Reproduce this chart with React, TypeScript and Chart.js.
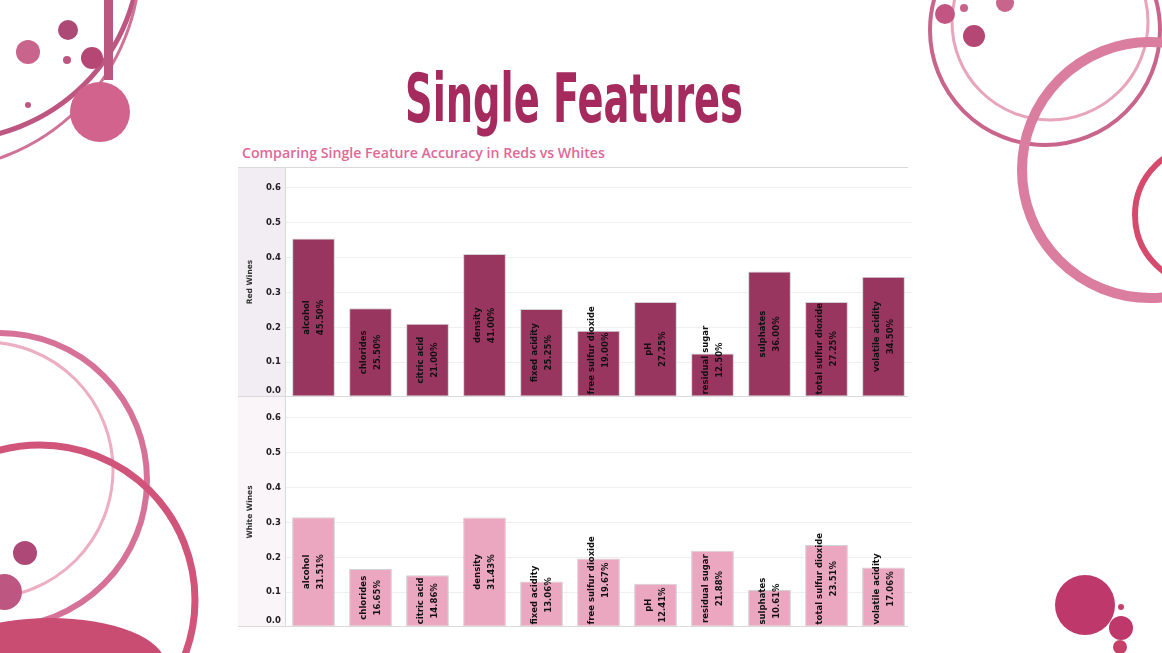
import React, { useEffect, useLayoutEffect, useRef, useState } from 'react';
import { Chart, registerables } from 'chart.js';

Chart.register(...registerables);

// ---------- data ----------
const categories = [
  'alcohol',
  'chlorides',
  'citric acid',
  'density',
  'fixed acidity',
  'free sulfur dioxide',
  'pH',
  'residual sugar',
  'sulphates',
  'total sulfur dioxide',
  'volatile acidity',
];
const redValues = [0.455, 0.255, 0.21, 0.41, 0.2525, 0.19, 0.2725, 0.125, 0.36, 0.2725, 0.345];
const whiteValues = [0.3151, 0.1665, 0.1486, 0.3143, 0.1306, 0.1967, 0.1241, 0.2188, 0.1061, 0.2351, 0.1706];
const yTickValues = [0, 0.1, 0.2, 0.3, 0.4, 0.5, 0.6];
const Y_MAX = 0.66;

const PANE_W = 674;
const PANE_H = 230;
const AXIS_W = 47;
const LABEL_FONT = 'bold 8.5px "DejaVu Sans", sans-serif';

type PaneProps = {
  values: number[];
  color: string;
  title: string;
  headerBg: string;
  drawTop: boolean;
  top: number;
};

function Pane({ values, color, title, headerBg, drawTop, top }: PaneProps) {
  const ref = useRef<HTMLCanvasElement | null>(null);

  useEffect(() => {
    if (!ref.current) return;
    const panePlugin = {
      id: 'panePlugin',
      beforeDraw(chart: any) {
        const { ctx, chartArea } = chart;
        ctx.save();
        ctx.fillStyle = headerBg;
        ctx.fillRect(0, 0, chartArea.left, chart.height);
        ctx.restore();
      },
      afterDatasetsDraw(chart: any) {
        const { ctx } = chart;
        const meta = chart.getDatasetMeta(0);
        ctx.save();
        ctx.font = LABEL_FONT;
        ctx.fillStyle = '#111';
        ctx.textAlign = 'center';
        ctx.textBaseline = 'middle';
        meta.data.forEach((bar: any, i: number) => {
          const { x, y, base } = bar.getProps(['x', 'y', 'base'], true);
          const name = categories[i];
          const pct = (values[i] * 100).toFixed(2) + '%';
          const len = Math.max(ctx.measureText(name).width, ctx.measureText(pct).width);
          let c = (y + base) / 2;
          if (c + len / 2 > base - 2) c = base - 2 - len / 2;
          ctx.save();
          ctx.translate(x, c);
          ctx.rotate(-Math.PI / 2);
          ctx.fillText(name, 0, -7);
          ctx.fillText(pct, 0, 7);
          ctx.restore();
        });
        ctx.restore();
      },
      afterDraw(chart: any) {
        const { ctx, chartArea, scales } = chart;
        ctx.save();
        // tick labels
        ctx.font = LABEL_FONT;
        ctx.fillStyle = '#222';
        ctx.textAlign = 'right';
        ctx.textBaseline = 'middle';
        yTickValues.forEach((v) => {
          let py = scales.y.getPixelForValue(v);
          py = Math.min(Math.max(py, chartArea.top + 6), chartArea.bottom - 6.5);
          ctx.fillText(v.toFixed(1), 43, py);
        });
        // axis title
        ctx.font = 'bold 7.5px "DejaVu Sans", sans-serif';
        ctx.fillStyle = '#333';
        ctx.textAlign = 'center';
        ctx.translate(12, (chartArea.top + chartArea.bottom) / 2);
        ctx.rotate(-Math.PI / 2);
        ctx.fillText(title, 0, 0);
        ctx.restore();
        // pane borders
        ctx.save();
        ctx.fillStyle = '#d9d9d9';
        if (drawTop) ctx.fillRect(0, 0, chartArea.right - 4, 1);
        ctx.fillRect(0, chart.height - 1, chartArea.right - 4, 1);
        ctx.restore();
      },
    };

    const chart = new Chart(ref.current, {
      type: 'bar',
      data: {
        labels: categories,
        datasets: [
          {
            data: values,
            backgroundColor: color,
            borderColor: '#d2d2d2',
            borderWidth: 1,
            borderSkipped: false,
            barPercentage: 0.75,
            categoryPercentage: 1,
          },
        ],
      },
      options: {
        animation: false,
        responsive: false,
        maintainAspectRatio: false,
        layout: { padding: 0 },
        plugins: {
          legend: { display: false },
          tooltip: { enabled: false },
          title: { display: false },
        },
        scales: {
          x: { display: false, offset: true },
          y: {
            min: 0,
            max: Y_MAX,
            ticks: { display: false, stepSize: 0.1 },
            afterBuildTicks: (s: any) => {
              s.ticks = yTickValues.map((v) => ({ value: v }));
            },
            afterFit: (s: any) => {
              s.width = AXIS_W;
            },
            grid: {
              drawTicks: false,
              color: (c: any) => (c.tick && c.tick.value === 0 ? '#d9d9d9' : '#efefef'),
            },
            border: { display: true, color: '#d9d9d9' },
          },
        },
      } as any,
      plugins: [panePlugin],
    });
    return () => chart.destroy();
  }, [values, color, title, headerBg, drawTop]);

  return (
    <div style={{ position: 'absolute', left: 238, top, width: PANE_W, height: PANE_H }}>
      <canvas ref={ref} width={PANE_W} height={PANE_H} style={{ width: PANE_W, height: PANE_H, display: 'block' }} />
    </div>
  );
}

function Decorations() {
  return (
    <svg width={1162} height={653} style={{ position: 'absolute', left: 0, top: 0 }}>
      {/* top-left */}
      <g opacity={0.85}>
        <circle cx={-50} cy={-50} r={190} fill="none" stroke="#b23a6c" strokeWidth={5} />
        <circle cx={-70} cy={-40} r={210} fill="none" stroke="#c85a86" strokeWidth={3} />
        <rect x={104} y={0} width={9} height={80} fill="#b03a6a" />
        <circle cx={100} cy={112} r={30} fill="#c9487a" />
        <circle cx={92} cy={58} r={11} fill="#a8285c" />
        <circle cx={68} cy={30} r={10} fill="#9e2a5e" />
        <circle cx={28} cy={52} r={12} fill="#c04a78" />
        <circle cx={67} cy={60} r={4} fill="#b23a6c" />
        <circle cx={28} cy={105} r={3} fill="#b23a6c" />
      </g>
      {/* top-right */}
      <g opacity={0.85}>
        <circle cx={1045} cy={30} r={115} fill="none" stroke="#c04a78" strokeWidth={4} />
        <circle cx={1050} cy={22} r={98} fill="none" stroke="#e595b0" strokeWidth={3} />
        <circle cx={1150} cy={170} r={128} fill="none" stroke="#d4678e" strokeWidth={10} />
        <circle cx={1205} cy={215} r={70} fill="none" stroke="#cf2b55" strokeWidth={6} />
        <circle cx={945} cy={14} r={10} fill="#b8386c" />
        <circle cx={974} cy={36} r={11} fill="#a8285c" />
        <circle cx={1005} cy={3} r={9} fill="#c04a78" />
        <circle cx={964} cy={8} r={4} fill="#c04a78" />
      </g>
      {/* bottom-left */}
      <g opacity={0.85}>
        <circle cx={0} cy={480} r={147} fill="none" stroke="#d05a85" strokeWidth={6} />
        <circle cx={-15} cy={470} r={128} fill="none" stroke="#eba0b8" strokeWidth={3} />
        <circle cx={40} cy={600} r={155} fill="none" stroke="#c93763" strokeWidth={7} />
        <ellipse cx={50} cy={664} rx={115} ry={46} fill="#c02d5a" />
        <circle cx={25} cy={553} r={12} fill="#a02a60" />
        <circle cx={4} cy={592} r={18} fill="#b23a6c" />
      </g>
      {/* bottom-right */}
      <g opacity={0.9}>
        <circle cx={1085} cy={605} r={30} fill="#b8235c" />
        <circle cx={1121} cy={628} r={12} fill="#b8235c" />
        <circle cx={1120} cy={647} r={7} fill="#c02d5a" />
        <circle cx={1121} cy={607} r={3} fill="#c02d5a" />
      </g>
    </svg>
  );
}

export default function App() {
  const titleRef = useRef<HTMLSpanElement | null>(null);
  const subRef = useRef<HTMLSpanElement | null>(null);
  const [scale, setScale] = useState(1);
  const [subScale, setSubScale] = useState(1);

  useLayoutEffect(() => {
    if (titleRef.current) {
      const w = titleRef.current.offsetWidth;
      if (w > 0) setScale(338 / w);
    }
    if (subRef.current) {
      const w = subRef.current.offsetWidth;
      if (w > 0) setSubScale(363 / w);
    }
  }, []);

  return (
    <div
      style={{
        position: 'absolute',
        left: 0,
        top: 0,
        width: 1162,
        height: 653,
        overflow: 'hidden',
        background: '#ffffff',
      }}
    >
      <Decorations />
      <span
        ref={titleRef}
        style={{
          position: 'absolute',
          left: 405,
          top: 66,
          fontFamily: '"Liberation Sans Narrow", "DejaVu Sans Condensed", "Liberation Sans", sans-serif',
          fontWeight: 'bold',
          fontSize: 67,
          lineHeight: 1,
          color: '#a52a5e',
          whiteSpace: 'nowrap',
          transform: `scaleX(${scale})`,
          transformOrigin: 'left top',
        }}
      >
        Single Features
      </span>
      <span
        ref={subRef}
        style={{
          position: 'absolute',
          left: 242,
          top: 145,
          fontFamily: '"Open Sans", "Liberation Sans", sans-serif',
          fontWeight: 600,
          fontSize: 14,
          lineHeight: '16px',
          color: '#df6897',
          whiteSpace: 'nowrap',
          transform: `scaleX(${subScale})`,
          transformOrigin: 'left top',
        }}
      >
        Comparing Single Feature Accuracy in Reds vs Whites
      </span>
      <Pane values={redValues} color="#983660" title="Red Wines" headerBg="#f2ecf3" drawTop={true} top={167} />
      <Pane values={whiteValues} color="#eba7bf" title="White Wines" headerBg="#faf5f9" drawTop={false} top={397} />
    </div>
  );
}
